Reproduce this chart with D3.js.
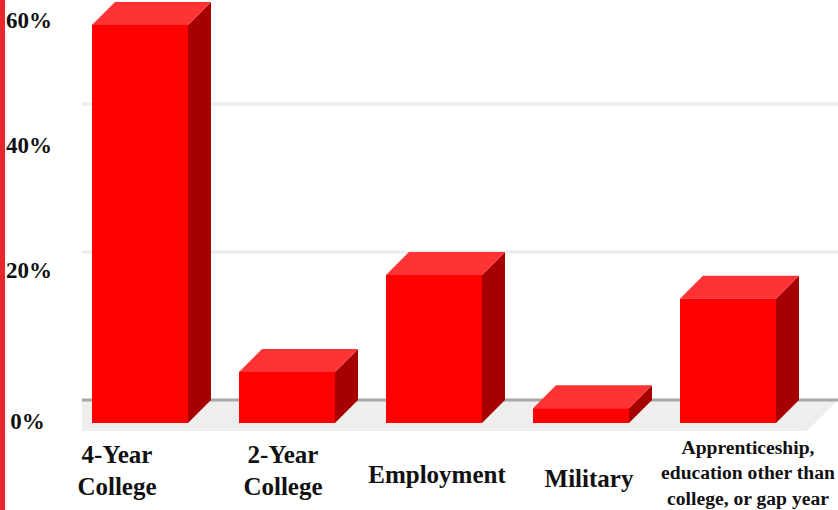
<!DOCTYPE html>
<html>
<head>
<meta charset="utf-8">
<script src="https://cdn.jsdelivr.net/npm/d3@7"></script>
<style>
  html, body { margin: 0; padding: 0; background: #fff; }
  svg { display: block; }
  text { font-family: "Liberation Serif", serif; font-weight: bold; fill: #111; }
</style>
</head>
<body>
<svg id="chart" width="838" height="510"></svg>
<script>
const categories = ["4-Year College", "2-Year College", "Employment", "Military", "Apprenticeship, education other than college, or gap year"];
const values = [53.8, 6.9, 20, 2, 16.8];
const tickValues = [0, 20, 40, 60];
const categoryLines = [
    ["4-Year", "College"],
    ["2-Year", "College"],
    ["Employment"],
    ["Military"],
    ["Apprenticeship,", "education other than", "college, or gap year"]
];

const svg = d3.select("#chart");
const depth = 23;

const x = d3.scaleBand().domain(categories).range([92, 776]).paddingInner(0.347).paddingOuter(0);
const y = d3.scaleLinear().domain([0, 20]).range([423, 275]);
// the reference's tick labels do not sit on the bar scale
const tickY = d3.scaleLinear().domain(tickValues).range([421, 270, 145, 20]);

// left stripe
svg.append("rect").attr("x", 0).attr("y", 0).attr("width", 5).attr("height", 510).attr("fill", "#e9262b");

// floor
const floorTop = y(0) - depth;
svg.append("polygon")
    .attr("points", [[82, floorTop], [838, floorTop], [807, floorTop + 31], [82, floorTop + 31]].join(" "))
    .attr("fill", "#eeeeee");

// grid lines on the back wall
svg.selectAll("line.grid")
    .data(tickValues.filter(d => d < 60))
    .enter()
    .append("line")
    .attr("class", "grid")
    .attr("x1", 82)
    .attr("x2", 838)
    .attr("y1", d => y(d) - depth)
    .attr("y2", d => y(d) - depth)
    .attr("stroke", d => d === 0 ? "#a8a8a8" : "#ececec")
    .attr("stroke-width", 3);

// bars
const bars = svg.selectAll("g.bar")
    .data(categories.map((c, i) => ({ category: c, value: values[i] })))
    .enter()
    .append("g")
    .attr("class", "bar");

bars.append("polygon")
    .attr("points", function(d) {
        const r = x(d.category) + x.bandwidth();
        return [[r, y(d.value)], [r + depth, y(d.value) - depth], [r + depth, y(0) - depth], [r, y(0)]].join(" ");
    })
    .attr("fill", "#a60000");

bars.append("polygon")
    .attr("points", function(d) {
        const l = x(d.category), r = l + x.bandwidth();
        return [[l, y(d.value)], [l + depth, y(d.value) - depth], [r + depth, y(d.value) - depth], [r, y(d.value)]].join(" ");
    })
    .attr("fill", "#ff3333");

bars.append("rect")
    .attr("x", d => x(d.category))
    .attr("y", d => y(d.value))
    .attr("width", x.bandwidth())
    .attr("height", d => y(0) - y(d.value))
    .attr("fill", "#ff0000");

// tick labels
svg.selectAll("text.tick")
    .data(tickValues)
    .enter()
    .append("text")
    .attr("class", "tick")
    .attr("x", d => d === 0 ? 27.5 : 29)
    .attr("y", d => tickY(d))
    .attr("dy", "0.35em")
    .attr("text-anchor", "middle")
    .attr("font-size", 23)
    .text(d => d + "%");

// category labels
const labelCenter = [117, 283, 437, 589, 748];
const labelTop = [454, 454, 474, 478, 447];
const labelGap = [32, 32, 0, 0, 25.5];
const labelSize = [25, 25, 25, 25, 19.6];

categoryLines.forEach(function(lines, i) {
    svg.selectAll("text.cat" + i)
        .data(lines)
        .enter()
        .append("text")
        .attr("class", "cat" + i)
        .attr("x", labelCenter[i])
        .attr("y", (d, j) => labelTop[i] + j * labelGap[i])
        .attr("dy", "0.35em")
        .attr("text-anchor", "middle")
        .attr("font-size", labelSize[i])
        .text(d => d);
});
</script>
</body>
</html>
